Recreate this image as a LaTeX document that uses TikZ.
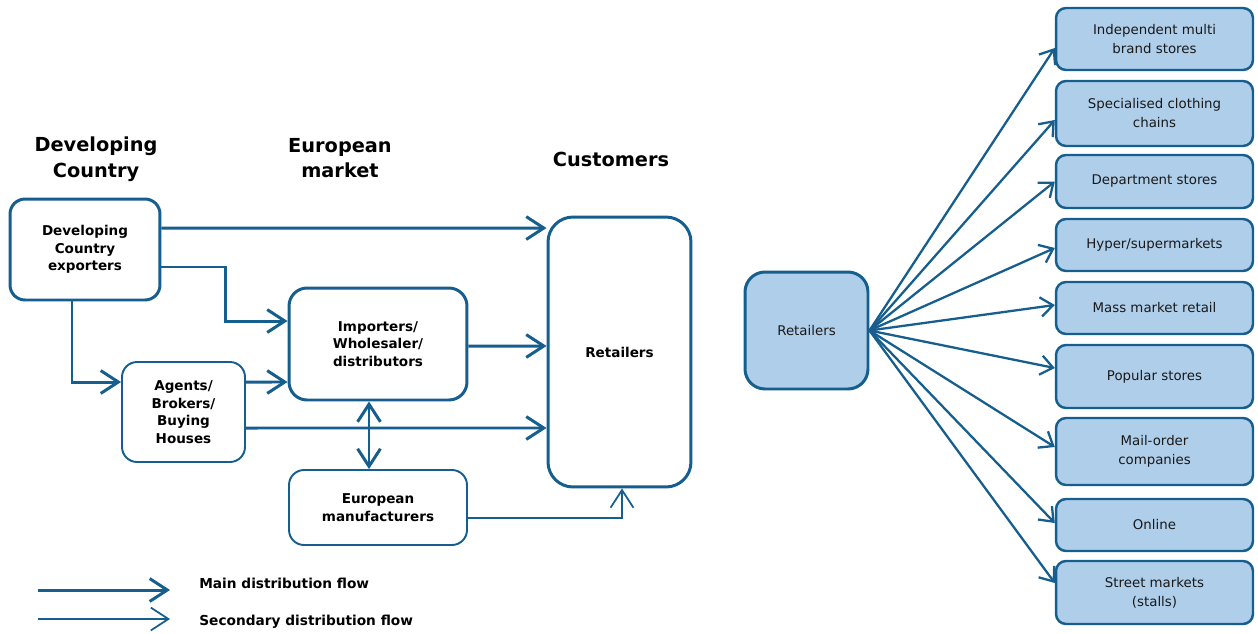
\documentclass[tikz,border=0pt]{standalone}
\usepackage{fontspec}
\setmainfont{DejaVu Sans}
\usetikzlibrary{arrows.meta}
\definecolor{line_blue}{RGB}{22,94,142}
\definecolor{fill_blue}{RGB}{175,206,234}

\begin{document}
\begin{tikzpicture}[->,>={Straight Barb[length=10pt,width=13pt]},x=0.02cm,y=-0.02cm]
    \tikzstyle{hbox}=[draw=line_blue, line width=1.7pt, rounded corners=0.3cm, align=center, text=black, font=\fontsize{7.7}{10}\selectfont\bfseries, inner sep=0pt]
    \tikzstyle{lbox}=[hbox, line width=1.1pt]
    \tikzstyle{rbox}=[draw=line_blue, fill=fill_blue, line width=1.4pt, rounded corners=0.2cm, minimum width=3.94cm, align=center, text=black!90, font=\fontsize{7.6}{10.8}\selectfont, inner sep=0pt]
    \tikzstyle{head}=[align=center, text=black, font=\fontsize{11}{14.5}\selectfont\bfseries]
    \tikzstyle{legend}=[anchor=west, inner sep=0pt, text=black, font=\fontsize{7.8}{10}\selectfont\bfseries]
    \tikzstyle{main}=[color=line_blue, line width=1.7pt]
    \tikzstyle{sec}=[color=line_blue, line width=1pt]
    \tikzstyle{fan}=[color=line_blue, line width=1.3pt, >={Straight Barb[length=7pt,width=11pt]}]

    \useasboundingbox (0,0) rectangle (1258,633);

    % column heads
    \node[head] (h1) at (96,159)  {Developing\\Country};
    \node[head] (h2) at (340,158) {European\\market};
    \node[head] (h3) at (611,159) {Customers};

    % left chain
    \node[hbox, minimum width=3cm, minimum height=2.02cm] (dc) at (85,249.5) {Developing\\Country\\exporters};
    \node[hbox, rounded corners=0.36cm, minimum width=3.56cm, minimum height=2.24cm] (imp) at (378,344) {Importers/\\Wholesaler/\\distributors};
    \node[lbox, minimum width=2.46cm, minimum height=2cm] (ag) at (183.5,412) {Agents/\\Brokers/\\Buying\\Houses};
    \node[lbox, minimum width=3.56cm, minimum height=1.5cm] (eu) at (378,507.5) {European\\manufacturers};
    \node[hbox, rounded corners=0.5cm, minimum width=2.86cm, minimum height=5.4cm] (ret) at (619.5,352) {Retailers};

    \path[main]
     ([yshift=.43cm]dc.east)    edge ([yshift=2.48cm]ret.west)
     ([yshift=.6cm]ag.east)     edge ([yshift=-.76cm]imp.west)
     ([yshift=-.04cm]imp.east)  edge ([yshift=.12cm]ret.west)
     ([yshift=-.32cm]ag.east)   edge ([yshift=-1.52cm]ret.west)
     ([xshift=-.18cm]imp.south) edge[<->] ([xshift=-.18cm]eu.north)
     ;
    \draw[main] ([yshift=-.35cm]dc.east) -- ++(64,0) |- ([yshift=.46cm]imp.west);
    \draw[main] ([xshift=-.26cm]dc.south) |- ([yshift=.6cm]ag.west);
    \draw[sec] ([yshift=-.21cm]eu.east) -| ([xshift=.05cm]ret.south);

    % legend
    \coordinate (m0) at (38,590);  \coordinate (m1) at (170,590);
    \coordinate (s0) at (38,619);  \coordinate (s1) at (170,619);
    \path[main] (m0) edge (m1);
    \path[sec]  (s0) edge (s1);
    \node[legend] (lm) at (199,583) {Main distribution flow};
    \node[legend] (ls) at (199,622) {Secondary distribution flow};

    % retailer types
    \node[rbox, line width=1.7pt, rounded corners=0.4cm, minimum width=2.46cm, minimum height=2.34cm] (rt) at (806.5,330.5) {Retailers};
    \node[rbox, minimum height=1.24cm] (b1) at (1154.5,39)    {Independent multi\\brand stores};
    \node[rbox, minimum height=1.3cm]  (b2) at (1154.5,113.5) {Specialised clothing\\chains};
    \node[rbox, minimum height=1.06cm] (b3) at (1154.5,181.5) {Department stores};
    \node[rbox, minimum height=1.04cm] (b4) at (1154.5,245)   {Hyper/supermarkets};
    \node[rbox, minimum height=1.04cm] (b5) at (1154.5,308)   {Mass market retail};
    \node[rbox, minimum height=1.26cm] (b6) at (1154.5,376.5) {Popular stores};
    \node[rbox, minimum height=1.34cm] (b7) at (1154.5,451.5) {Mail-order\\companies};
    \node[rbox, minimum height=1.04cm] (b8) at (1154.5,525)   {Online};
    \node[rbox, minimum height=1.26cm] (b9) at (1154.5,592.5) {Street markets\\(stalls)};

    \path[fan]
     (rt.east) edge ([yshift=-.18cm]b1.west)
     (rt.east) edge ([yshift=-.13cm]b2.west)
     (rt.east) edge (b3.west)
     (rt.east) edge ([yshift=-.06cm]b4.west)
     (rt.east) edge ([yshift=.06cm]b5.west)
     (rt.east) edge ([yshift=.17cm]b6.west)
     (rt.east) edge ([yshift=.09cm]b7.west)
     (rt.east) edge ([yshift=.04cm]b8.west)
     (rt.east) edge ([yshift=.19cm]b9.west)
     ;
\end{tikzpicture}
\end{document}
